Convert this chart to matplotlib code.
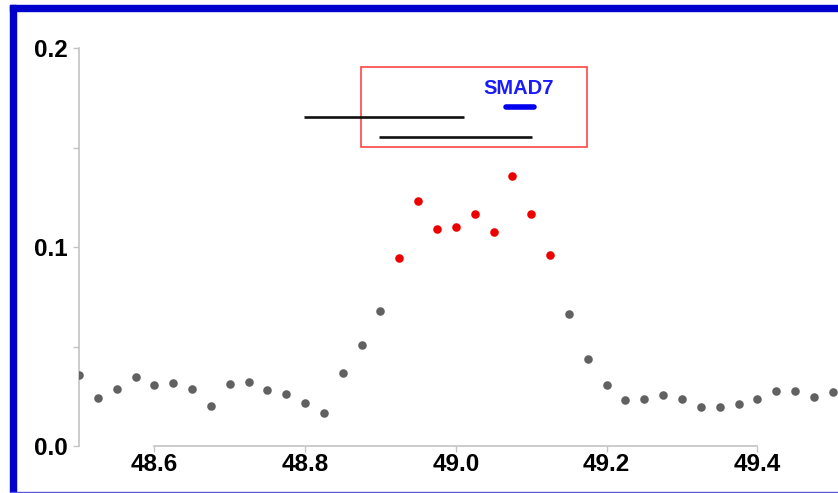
import matplotlib
matplotlib.use("Agg")
import matplotlib.pyplot as plt
from matplotlib.patches import Rectangle
import numpy as np

# positions (Mb) and association values
pos = np.round(np.arange(48.5, 49.5001, 0.025), 3)
vals = [0.0358, 0.0241, 0.0288, 0.0345, 0.0308, 0.0315, 0.0288, 0.0199,
        0.0310, 0.0320, 0.0283, 0.0261, 0.0218, 0.0166, 0.0368, 0.0506,
        0.0678, 0.0946, 0.1231, 0.1089, 0.1101, 0.1166, 0.1077, 0.1358,
        0.1167, 0.0961, 0.0663, 0.0436, 0.0305, 0.0230, 0.0235, 0.0255,
        0.0236, 0.0198, 0.0196, 0.0213, 0.0236, 0.0275, 0.0276, 0.0246,
        0.0270]
highlight = (48.92, 49.13)

# gene tracks: (start, end, y)
genes = [(48.799, 49.011, 0.1652), (48.898, 49.101, 0.1551)]
smad7 = (49.066, 49.104, 0.1702)
smad7_label = "SMAD7"
box = (48.874, 49.174, 0.1501, 0.1903)

xticks = [48.6, 48.8, 49.0, 49.2, 49.4]
yticks_major = [0.0, 0.1, 0.2]
yticks_minor = [0.05, 0.15]

plt.rcParams["font.family"] = ["Liberation Sans", "DejaVu Sans"]

fig = plt.figure(figsize=(8.38, 4.93), dpi=100)
ax = fig.add_axes([79 / 838, 47 / 493, 1 - 79 / 838, (446 - 48) / 493])

vals = np.array(vals)
hi = (pos > highlight[0]) & (pos < highlight[1])
ax.scatter(pos[~hi], vals[~hi], s=38, color="#616161", linewidths=0, zorder=3)
ax.scatter(pos[hi], vals[hi], s=38, color="#ee0000", linewidths=0, zorder=3)

for x0, x1, y in genes:
    ax.plot([x0, x1], [y, y], color="#111111", lw=1.9, solid_capstyle="butt")
ax.plot([smad7[0], smad7[1]], [smad7[2], smad7[2]], color="#0000ee", lw=4,
        solid_capstyle="round")
ax.text((smad7[0] + smad7[1]) / 2 - 0.002, smad7[2] + 0.0045, smad7_label,
        color="#1a1aff", fontsize=14.5, fontweight="bold", ha="center", va="bottom")
ax.add_patch(Rectangle((box[0], box[2]), box[1] - box[0], box[3] - box[2],
                       fill=False, edgecolor="#ff4444", lw=1.2))

ax.set_xlim(48.5, 48.5 + 759 / 753.75)
ax.set_ylim(0, 0.2)
for s in ["top", "right"]:
    ax.spines[s].set_visible(False)
for s in ["left", "bottom"]:
    ax.spines[s].set_color("#c4c4c4")
    ax.spines[s].set_linewidth(1.2)
ax.spines["bottom"].set_bounds(48.6, 49.4)

ax.set_xticks(xticks)
ax.set_xticklabels([f"{v:.1f}" for v in xticks])
ax.set_yticks(yticks_major)
ax.set_yticklabels([f"{v:.1f}" for v in yticks_major])
ax.set_yticks(yticks_minor, minor=True)
ax.tick_params(axis="both", which="both", color="#c4c4c4", width=1.0)
ax.tick_params(axis="x", length=4, pad=1, labelsize=17.5)
ax.tick_params(axis="y", which="major", length=4, pad=4, labelsize=17.5)
ax.tick_params(axis="y", which="minor", length=4)
for lab in ax.get_xticklabels() + ax.get_yticklabels():
    lab.set_fontweight("bold")

# blue frame
fig.patches.append(Rectangle((10 / 838, 0), 6 / 838, 488 / 493,
                             transform=fig.transFigure, color="#0000cc", zorder=10))
fig.patches.append(Rectangle((10 / 838, 482 / 493), 828 / 838, 6 / 493,
                             transform=fig.transFigure, color="#0000cc", zorder=10))
fig.patches.append(Rectangle((10 / 838, 0), 828 / 838, 1.5 / 493,
                             transform=fig.transFigure, color="#5a5ae0", zorder=10))

fig.savefig("out.png", dpi=100)
